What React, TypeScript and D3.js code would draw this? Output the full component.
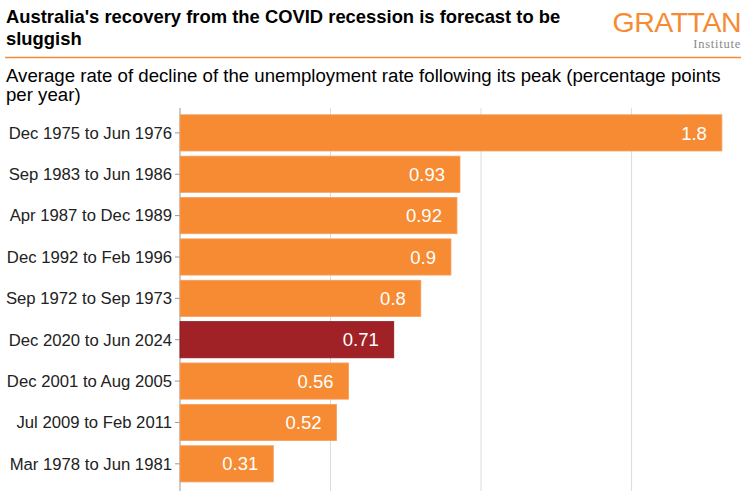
import React from "react";
import * as d3 from "d3";

const categories = [
  "Dec 1975 to Jun 1976",
  "Sep 1983 to Jun 1986",
  "Apr 1987 to Dec 1989",
  "Dec 1992 to Feb 1996",
  "Sep 1972 to Sep 1973",
  "Dec 2020 to Jun 2024",
  "Dec 2001 to Aug 2005",
  "Jul 2009 to Feb 2011",
  "Mar 1978 to Jun 1981",
];
const values = [1.8, 0.93, 0.92, 0.9, 0.8, 0.71, 0.56, 0.52, 0.31];
const highlight = "Dec 2020 to Jun 2024";
const gridTicks = [0.5, 1.0, 1.5];

const W = 754;
const H = 491;
const FONT = "'Liberation Sans', Arial, Helvetica, sans-serif";
const ORANGE = "#F68B33";
const RED = "#A02226";

export default function App() {
  const x = d3.scaleLinear().domain([0, 1.9]).range([180, 752]);
  const y = d3
    .scaleBand<string>()
    .domain(categories)
    .range([112.3, 484.4])
    .paddingInner(0.125)
    .paddingOuter(0.06);

  return (
    <svg
      width={W}
      height={H}
      style={{ position: "absolute", left: 0, top: 0, background: "#fff" }}
      fontFamily={FONT}
    >
      {/* Title */}
      <text x={6} y={22.5} fontSize={18.4} fontWeight="bold" fill="#000">
        Australia's recovery from the COVID recession is forecast to be
      </text>
      <text x={6} y={45} fontSize={18.4} fontWeight="bold" fill="#000">
        sluggish
      </text>
      {/* Logo */}
      <text
        x={741}
        y={31.5}
        textAnchor="end"
        fontSize={28.5}
        fontWeight={300}
        fill={ORANGE}
        fontFamily="'Liberation Sans', Arial, sans-serif"
        letterSpacing={-0.5}
      >
        GRATTAN
      </text>
      <text
        x={741}
        y={47.5}
        textAnchor="end"
        fontSize={12.5}
        fill="#888"
        letterSpacing={0.75}
        fontFamily="'Liberation Serif', 'DejaVu Serif', serif"
      >
        Institute
      </text>
      <line x1={5} x2={741} y1={57.5} y2={57.5} stroke={ORANGE} strokeWidth={1.5} />
      {/* Subtitle */}
      <text x={6} y={81.5} fontSize={18.65} fill="#000">
        Average rate of decline of the unemployment rate following its peak (percentage points
      </text>
      <text x={6} y={100.5} fontSize={18.65} fill="#000">
        per year)
      </text>

      {/* Grid */}
      {gridTicks.map((t) => (
        <line
          key={t}
          x1={x(t)}
          x2={x(t)}
          y1={108}
          y2={H}
          stroke="#dcdcdc"
          strokeWidth={1}
        />
      ))}

      {/* Axis line */}
      <line x1={x(0)} x2={x(0)} y1={108} y2={H} stroke="#999" strokeWidth={1} />

      {/* Bars */}
      {categories.map((c, i) => {
        const y0 = y(c)!;
        const bh = y.bandwidth();
        const isH = c === highlight;
        const fill = isH ? RED : ORANGE;
        const cy = y0 + bh / 2;
        return (
          <g key={c}>
            <line x1={x(0) - 5} x2={x(0)} y1={cy} y2={cy} stroke="#999" />
            <text
              x={x(0) - 8}
              y={cy}
              dy="0.35em"
              textAnchor="end"
              fontSize={16.7}
              fill="#222"
            >
              {c}
            </text>
            <rect
              x={x(0)}
              y={y0}
              width={x(values[i]) - x(0)}
              height={bh}
              fill={fill}
              stroke={isH ? "#8a1a1e" : "#f5a060"}
              strokeWidth={0.8}
            />
            <text
              x={x(values[i]) - 15}
              y={cy}
              dy="0.36em"
              textAnchor="end"
              fontSize={18.5}
              fill="#fff"
            >
              {String(values[i])}
            </text>
          </g>
        );
      })}
    </svg>
  );
}
